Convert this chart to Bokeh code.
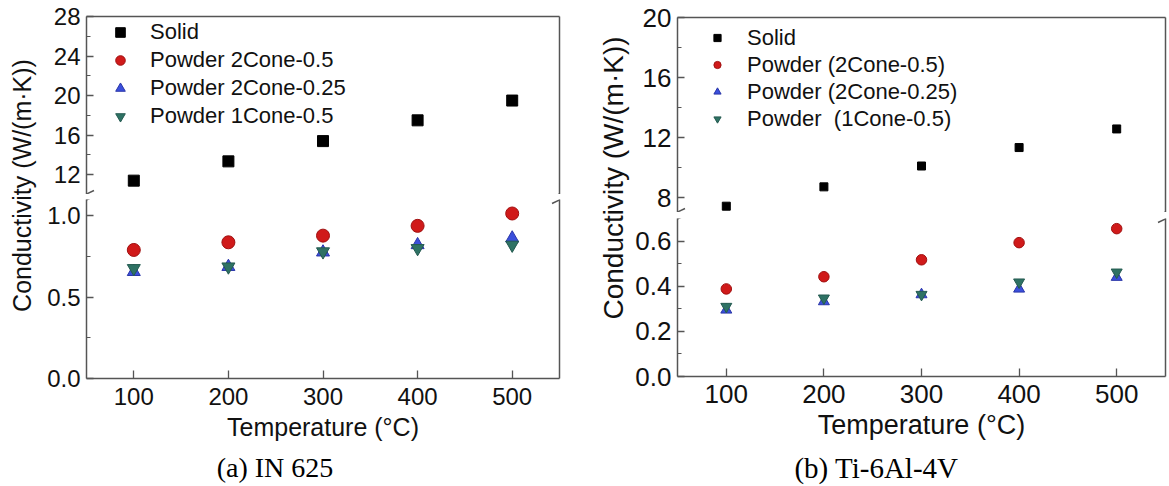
import math
from bokeh.plotting import figure
from bokeh.models import (Range1d, LinearAxis, FixedTicker, Legend, LegendItem,
                          Label, Arrow, PrintfTickFormatter)
from bokeh.layouts import row, column
from bokeh.embed import file_html
from bokeh.resources import INLINE

# ---------------- data ----------------
temps = [100, 200, 300, 400, 500]

in625_solid = [11.4, 13.35, 15.4, 17.5, 19.5]
in625_2cone_05 = [0.79, 0.837, 0.878, 0.938, 1.014]
in625_2cone_025 = [0.656, 0.687, 0.776, 0.821, 0.862]
in625_1cone_05 = [0.677, 0.687, 0.78, 0.80, 0.821]
in625_labels = ["Solid", "Powder 2Cone-0.5", "Powder 2Cone-0.25", "Powder 1Cone-0.5"]

ti_solid = [7.42, 8.71, 10.1, 11.33, 12.57]
ti_2cone_05 = [0.388, 0.442, 0.517, 0.593, 0.655]
ti_2cone_025 = [0.295, 0.332, 0.363, 0.388, 0.44]
ti_1cone_05 = [0.31, 0.347, 0.363, 0.418, 0.462]
ti_labels = ["Solid", "Powder (2Cone-0.5)", "Powder (2Cone-0.25)", "Powder  (1Cone-0.5)"]

x_ticks = [100, 200, 300, 400, 500]
x_label = "Temperature (°C)"
y_label = "Conductivity (W/(m·K))"

SANS = "Liberation Sans"
SERIF = "Liberation Serif"
AX = "#555555"
TXT = "#111111"

MARKERS = ["square", "circle", "triangle", "inverted_triangle"]
FILLS = ["#000000", "#d01a1a", "#3a4fdc", "#2e7264"]
EDGES = ["#000000", "#a01010", "#2a36a8", "#245a50"]


def style_axis(ax, fs, ticks, minor, fmt):
    ax.ticker = FixedTicker(ticks=ticks, minor_ticks=minor)
    ax.formatter = PrintfTickFormatter(format=fmt)
    ax.axis_line_color = AX
    ax.axis_line_width = 1.5
    ax.major_tick_line_color = AX
    ax.major_tick_line_width = 1.3
    ax.major_tick_in = 7
    ax.major_tick_out = 0
    ax.minor_tick_line_color = AX
    ax.minor_tick_in = 4
    ax.minor_tick_out = 0
    ax.major_label_text_font = SANS
    ax.major_label_text_font_size = f"{fs}px"
    ax.major_label_text_color = TXT
    ax.major_label_standoff = 6


def edge_axis():
    ax = LinearAxis(ticker=FixedTicker(ticks=[]))
    ax.axis_line_color = AX
    ax.axis_line_width = 1.5
    ax.major_tick_in = 0
    ax.major_tick_out = 0
    ax.minor_tick_in = 0
    ax.minor_tick_out = 0
    ax.major_label_standoff = 0
    ax.major_label_text_font_size = "0px"
    return ax


def blank(w, h):
    p = figure(width=w, height=h, x_range=Range1d(0, w), y_range=Range1d(0, h),
               x_axis_location=None, y_axis_location=None,
               toolbar_location=None, output_backend="svg", min_border=0)
    p.outline_line_color = None
    p.grid.visible = False
    return p


def panel(series, labels, c):
    xr = (50, 550)
    fw = c["fig_w"] - c["mb_left"] - c["mb_right"]
    up_fh = c["up_h"] - c["up_top"]
    lo_fh = c["lo_h"] - c["lo_top"] - c["lo_bottom"]

    def mkfig(h, yr, top, bottom):
        p = figure(width=c["fig_w"], height=h, x_range=Range1d(*xr), y_range=Range1d(*yr),
                   x_axis_location=None, y_axis_location="left",
                   toolbar_location=None, output_backend="svg",
                   min_border_left=c["mb_left"], min_border_right=c["mb_right"],
                   min_border_top=top, min_border_bottom=bottom)
        p.outline_line_color = None
        p.grid.visible = False
        p.background_fill_color = "white"
        p.border_fill_color = "white"
        return p

    up = mkfig(c["up_h"], c["up_yr"], c["up_top"], 0)
    lo = mkfig(c["lo_h"], c["lo_yr"], c["lo_top"], c["lo_bottom"])

    style_axis(up.yaxis[0], c["tick_fs"], c["up_ticks"], c["up_minor"], "%d")
    style_axis(lo.yaxis[0], c["tick_fs"], c["lo_ticks"], c["lo_minor"], "%.1f")
    up.add_layout(edge_axis(), "above")
    up.add_layout(edge_axis(), "right")
    lo.add_layout(edge_axis(), "right")

    xax = LinearAxis()
    style_axis(xax, c["tick_fs"], x_ticks, [], "%d")
    xax.major_tick_in = 8
    xax.major_label_standoff = c["xt_stand"]
    xax.axis_label = x_label
    xax.axis_label_text_font = SANS
    xax.axis_label_text_font_size = f"{c['xl_fs']}px"
    xax.axis_label_text_font_style = "normal"
    xax.axis_label_text_color = TXT
    xax.axis_label_standoff = c["xl_stand"]
    lo.add_layout(xax, "below")

    sizes = c["sizes"]
    items = []
    for i, ys in enumerate(series):
        for p in (up, lo):
            r = p.scatter(temps, ys, marker=MARKERS[i], size=sizes[i],
                          fill_color=FILLS[i], line_color=EDGES[i], line_width=1)
            if p is up:
                items.append(LegendItem(label=labels[i], renderers=[r]))

    leg = Legend(items=items, location=c["leg_loc"], orientation="vertical",
                 glyph_width=c["gw"], glyph_height=c["gh"], label_height=c["gh"],
                 label_standoff=c["standoff"], spacing=0, padding=0, margin=0,
                 label_text_font=SANS, label_text_font_size=f"{c['leg_fs']}px",
                 label_text_color=TXT, border_line_color=None,
                 background_fill_alpha=0)
    up.add_layout(leg)

    # axis-break marks (decoration) -- pixel offsets converted to data units
    def d(p_yr, fh, dx, dy):
        return (xr[0] + dx * (xr[1] - xr[0]) / fw,
                p_yr[0] + dy * (p_yr[1] - p_yr[0]) / fh)

    hw, hh = 7.5, 3.5
    for edge_dx in (0, fw):
        for p, yr, fh, dy in ((up, c["up_yr"], up_fh, 0.5), (lo, c["lo_yr"], lo_fh, lo_fh - 0.5)):
            x0, y0 = d(yr, fh, edge_dx - hw, dy - hh)
            x1, y1 = d(yr, fh, edge_dx + hw, dy + hh)
            p.add_layout(Arrow(end=None, x_start=x0, y_start=y0, x_end=x1, y_end=y1,
                               line_color=AX, line_width=1.5))

    # y-axis title spanning both segments
    H = c["up_h"] + c["lo_h"]
    lab = blank(c["lab_w"], H)
    lab.add_layout(Label(x=c["yl_x"], y=H - c["yl_y"], text=y_label, angle=math.pi / 2,
                         text_font=SANS, text_font_size=f"{c['yl_fs']}px",
                         text_color=TXT, text_align="center", text_baseline="middle"))

    # caption strip
    pw = c["lab_w"] + c["fig_w"]
    cap = blank(pw, c["cap_h"])
    cap.add_layout(Label(x=c["cap_x"], y=c["cap_mid"], text=c["caption"], text_font=SERIF,
                         text_font_size=f"{c['cap_fs']}px", text_color="#000000",
                         text_align="center", text_baseline="middle"))

    return column(row(lab, column(up, lo, spacing=0), spacing=0), cap, spacing=0)


cfg_a = dict(lab_w=44, fig_w=536, up_h=194, lo_h=256, mb_left=40, mb_right=21,
             up_top=16, lo_top=5, lo_bottom=72,
             up_yr=(10, 28), up_ticks=[12, 16, 20, 24, 28], up_minor=[14, 18, 22, 26],
             lo_yr=(0, 1.1), lo_ticks=[0, 0.5, 1.0], lo_minor=[0.25, 0.75],
             tick_fs=24, xl_fs=25, yl_fs=25, leg_fs=22, cap_fs=28,
             xt_stand=9, xl_stand=5,
             sizes=[11, 13, 13, 13],
             leg_loc=(22, 64), gw=24, gh=28, standoff=18,
             yl_x=21, yl_y=185,
             cap_h=36, cap_x=278, cap_mid=19, caption="(a)  IN 625")

cfg_b = dict(lab_w=50, fig_w=539, up_h=212, lo_h=238, mb_left=47, mb_right=4,
             up_top=17, lo_top=6, lo_bottom=74,
             up_yr=(7, 20), up_ticks=[8, 12, 16, 20], up_minor=[10, 14, 18],
             lo_yr=(0, 0.7), lo_ticks=[0, 0.2, 0.4, 0.6], lo_minor=[0.1, 0.3, 0.5],
             tick_fs=26, xl_fs=27, yl_fs=28, leg_fs=22, cap_fs=29,
             xt_stand=8, xl_stand=4,
             sizes=[8, 10.5, 11, 11],
             leg_loc=(31, 80), gw=18, gh=27, standoff=21,
             yl_x=33, yl_y=177.5,
             cap_h=36, cap_x=296, cap_mid=19, caption="(b) Ti-6Al-4V")

left = panel([in625_solid, in625_2cone_05, in625_2cone_025, in625_1cone_05], in625_labels, cfg_a)
right = panel([ti_solid, ti_2cone_05, ti_2cone_025, ti_1cone_05], ti_labels, cfg_b)

layout = row(left, right, spacing=0)
open("out.html", "w").write(file_html(layout, INLINE))
